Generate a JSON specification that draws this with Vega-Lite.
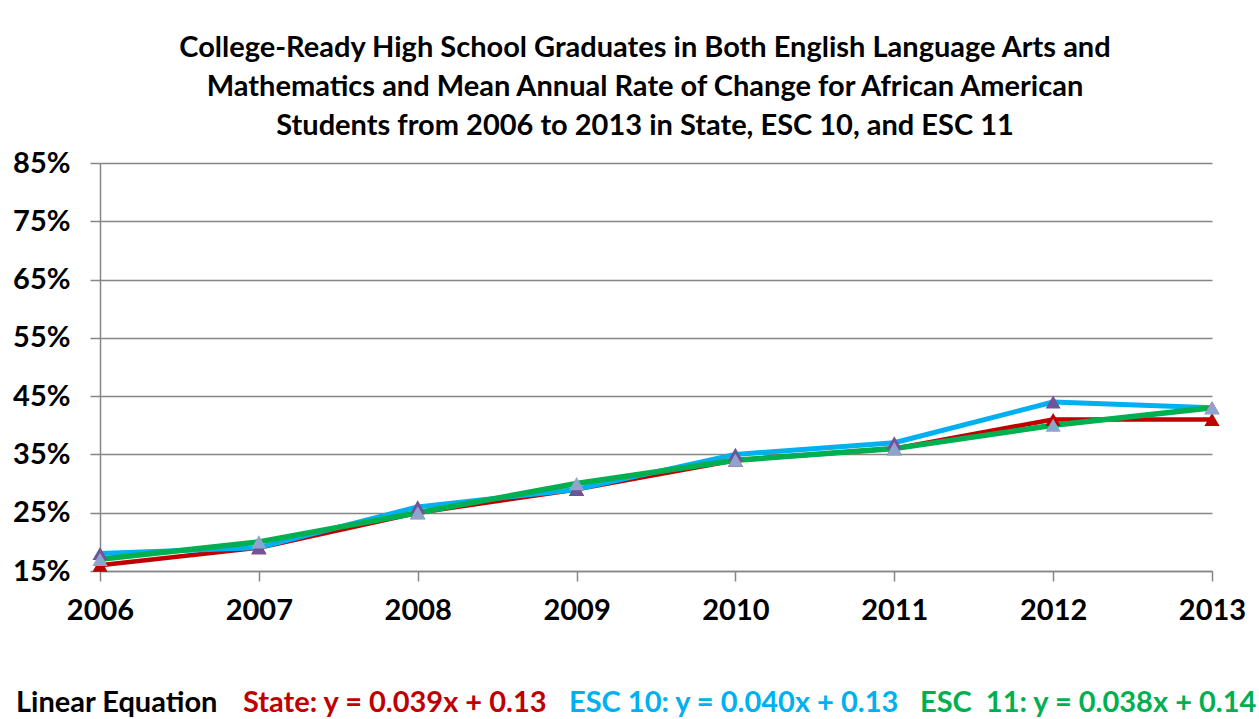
{
  "$schema": "https://vega.github.io/schema/vega-lite/v6.json",
  "autosize": {"type": "none"},
  "padding": {"left": 100, "top": 163, "right": 47, "bottom": 148},
  "width": 1112,
  "height": 408,
  "background": "white",
  "config": {
    "view": {"stroke": null},
    "font": "Lato"
  },
  "title": {
    "text": ["College-Ready High School Graduates in Both English Language Arts and", "Mathematics and Mean Annual Rate of Change for African American", "Students from 2006 to 2013 in State, ESC 10, and ESC 11"],
    "font": "Lato",
    "fontSize": 29,
    "fontWeight": "bold",
    "color": "#000000",
    "lineHeight": 39,
    "offset": 8,
    "dx": -11,
    "anchor": "middle"
  },
  "data": {
    "values": [
      {"year": "2006", "series": "State", "value": 0.16},
      {"year": "2007", "series": "State", "value": 0.19},
      {"year": "2008", "series": "State", "value": 0.25},
      {"year": "2009", "series": "State", "value": 0.29},
      {"year": "2010", "series": "State", "value": 0.34},
      {"year": "2011", "series": "State", "value": 0.36},
      {"year": "2012", "series": "State", "value": 0.41},
      {"year": "2013", "series": "State", "value": 0.41},
      {"year": "2006", "series": "ESC 10", "value": 0.18},
      {"year": "2007", "series": "ESC 10", "value": 0.19},
      {"year": "2008", "series": "ESC 10", "value": 0.26},
      {"year": "2009", "series": "ESC 10", "value": 0.29},
      {"year": "2010", "series": "ESC 10", "value": 0.35},
      {"year": "2011", "series": "ESC 10", "value": 0.37},
      {"year": "2012", "series": "ESC 10", "value": 0.44},
      {"year": "2013", "series": "ESC 10", "value": 0.43},
      {"year": "2006", "series": "ESC 11", "value": 0.17},
      {"year": "2007", "series": "ESC 11", "value": 0.20},
      {"year": "2008", "series": "ESC 11", "value": 0.25},
      {"year": "2009", "series": "ESC 11", "value": 0.30},
      {"year": "2010", "series": "ESC 11", "value": 0.34},
      {"year": "2011", "series": "ESC 11", "value": 0.36},
      {"year": "2012", "series": "ESC 11", "value": 0.40},
      {"year": "2013", "series": "ESC 11", "value": 0.43}
    ]
  },
  "encoding": {
    "x": {
      "field": "year",
      "type": "ordinal",
      "scale": {"type": "point", "padding": 0},
      "axis": {
        "title": null,
        "labelAngle": 0,
        "labelFont": "Lato",
        "labelFontSize": 29,
        "labelFontWeight": "bold",
        "labelColor": "#000000",
        "labelPadding": 15,
        "tickSize": 10,
        "tickColor": "#868686",
        "tickWidth": 1.5,
        "domainColor": "#868686",
        "domainWidth": 1.5,
        "grid": false
      }
    },
    "y": {
      "field": "value",
      "type": "quantitative",
      "scale": {"domain": [0.15, 0.85], "nice": false, "zero": false},
      "axis": {
        "title": null,
        "values": [0.15, 0.25, 0.35, 0.45, 0.55, 0.65, 0.75, 0.85],
        "format": ".0%",
        "labelFont": "Lato",
        "labelFontSize": 29,
        "labelFontWeight": "bold",
        "labelColor": "#000000",
        "labelPadding": 20,
        "tickSize": 10,
        "tickColor": "#868686",
        "tickWidth": 1.5,
        "domainColor": "#868686",
        "domainWidth": 1.5,
        "grid": true,
        "gridColor": "#868686",
        "gridWidth": 1.5
      }
    }
  },
  "layer": [
    {
      "mark": {"type": "line", "strokeCap": "butt", "strokeJoin": "round"},
      "encoding": {
        "color": {
          "field": "series",
          "type": "nominal",
          "scale": {"domain": ["State", "ESC 10", "ESC 11"], "range": ["#C00000", "#00B0F0", "#00B050"]},
          "legend": {
            "orient": "none",
            "legendX": -84,
            "legendY": 525,
            "direction": "horizontal",
            "gridAlign": "none",
            "title": "Linear Equation",
            "titleOrient": "left",
            "titleFont": "Lato",
            "titleFontSize": 29,
            "titleFontWeight": "bold",
            "titleColor": "#000000",
            "titleLimit": 500,
            "titlePadding": -5,
            "labelFont": "Lato",
            "labelFontSize": 29,
            "labelFontWeight": "bold",
            "labelLimit": 700,
            "labelOffset": 0,
            "symbolSize": 0,
            "symbolOpacity": 0,
            "symbolStrokeWidth": 0,
            "columnPadding": -9,
            "labelExpr": "datum.value === 'State' ? 'State: y = 0.039x + 0.13' : datum.value === 'ESC 10' ? 'ESC 10: y = 0.040x + 0.13' : 'ESC\u00a0 11: y = 0.038x + 0.14'",
            "encode": {
              "labels": {
                "update": {
                  "fill": {"signal": "datum.value === 'State' ? '#C00000' : datum.value === 'ESC 10' ? '#00B0F0' : '#00B050'"}
                }
              }
            }
          }
        },
        "strokeWidth": {
          "field": "series",
          "type": "nominal",
          "scale": {"domain": ["State", "ESC 10", "ESC 11"], "range": [4.5, 5.5, 6.5]},
          "legend": null
        }
      }
    },
    {
      "mark": {"type": "point", "shape": "triangle-up", "filled": true, "size": 230, "opacity": 1},
      "encoding": {
        "fill": {
          "field": "series",
          "type": "nominal",
          "scale": {"domain": ["State", "ESC 10", "ESC 11"], "range": ["#C00000", "#6F5597", "#8EA4CE"]},
          "legend": null
        }
      }
    }
  ]
}
